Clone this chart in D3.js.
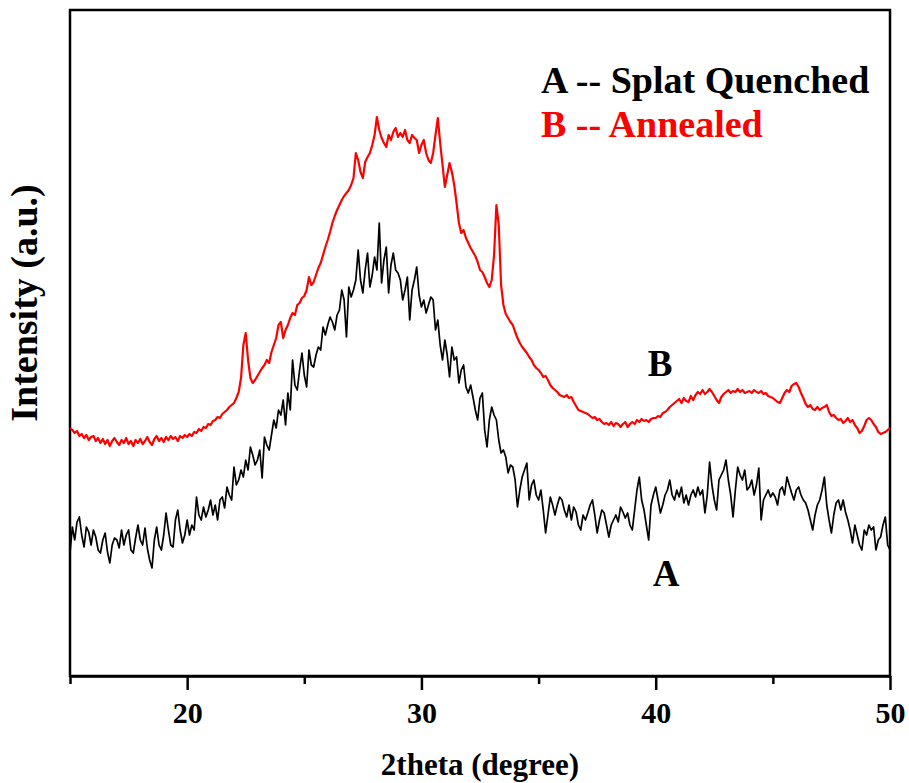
<!DOCTYPE html>
<html>
<head>
<meta charset="utf-8">
<script src="https://cdn.jsdelivr.net/npm/d3@7"></script>
<style>
  body { margin: 0; background: #fff; }
  text { font-family: "Liberation Serif", "Times New Roman", serif; font-weight: bold; }
</style>
</head>
<body>
<div id="chart"></div>
<script>
// 2theta grid, 15 -> 50 deg in 0.1 deg steps
const twoTheta = d3.range(351).map(i => 15 + i / 10);

// A -- Splat Quenched (one row per degree)
const intensityA = [
  123,149,136,154,159,141,129,149,144,131,
  146,139,126,123,136,143,124,113,131,138,
  136,128,146,131,141,146,126,123,138,151,
  136,131,148,128,116,108,136,149,131,126,
  141,163,146,131,129,156,166,146,133,141,
  156,141,151,146,179,161,156,169,159,166,
  176,161,171,156,176,179,168,189,181,176,
  209,191,196,206,199,216,206,229,221,211,
  216,226,198,239,231,226,241,256,248,266,
  261,276,251,283,266,316,291,286,306,323,
  301,289,326,311,309,321,329,326,349,341,
  351,359,354,346,361,366,386,376,339,389,
  379,386,396,426,396,383,406,423,389,401,
  419,406,453,393,416,429,383,411,423,406,
  403,396,376,386,399,356,386,396,409,381,
  369,376,363,371,379,376,346,356,331,316,
  336,321,299,329,316,319,293,306,311,289,
  283,291,279,266,256,278,283,246,229,256,
  269,261,256,236,223,226,219,203,211,209,
  196,169,186,199,206,213,176,191,196,181,
  176,186,166,143,161,179,171,161,171,179,
  176,166,159,171,156,169,164,151,146,161,
  156,163,171,176,161,143,156,166,163,151,
  139,151,156,161,154,169,164,158,163,151,
  146,166,186,199,176,166,151,136,171,181,
  189,176,163,171,181,186,196,181,176,186,
  179,189,173,181,171,181,186,179,189,181,
  186,163,181,214,191,176,166,196,201,206,
  216,196,181,159,186,209,201,196,206,186,
  189,196,181,191,208,156,176,181,186,179,
  183,179,171,186,189,181,199,191,183,176,
  186,189,181,176,173,166,156,146,161,171,
  176,186,199,171,156,143,161,173,176,166,
  176,164,156,146,133,151,141,131,126,146,
  141,151,146,149,126,136,139,151,159,131,
  126
];

// B -- Annealed
const intensityB = [
  248,246,243,245,240,242,238,241,236,239,
  240,235,238,233,237,232,236,230,235,238,
  234,231,236,233,238,232,235,230,236,233,
  237,232,235,239,234,231,237,240,235,238,
  234,239,236,240,237,239,235,240,238,241,
  239,242,240,244,243,247,245,249,248,252,
  251,255,256,259,258,262,264,266,269,271,
  273,278,284,298,331,343,316,298,293,296,
  300,304,308,311,316,313,324,331,338,351,
  354,338,346,351,358,363,361,371,373,378,
  380,386,399,391,394,401,408,413,421,429,
  436,444,453,460,466,471,476,480,483,486,
  491,498,523,516,504,498,514,519,523,531,
  541,559,546,538,533,529,541,536,544,548,
  539,543,539,546,536,533,541,538,536,523,
  531,536,523,516,513,523,541,558,533,511,
  489,501,513,504,491,473,453,443,446,438,
  433,428,424,420,414,406,404,399,393,389,
  396,421,471,451,391,371,362,358,354,351,
  344,338,333,329,326,323,319,316,311,308,
  306,303,299,300,296,291,288,286,284,281,
  280,279,281,278,279,274,270,266,265,264,
  263,262,260,258,259,256,257,254,252,253,
  251,254,250,253,252,249,252,254,249,252,
  254,252,256,254,257,255,256,254,257,258,
  258,260,259,263,264,266,269,271,273,275,
  277,273,278,275,274,280,276,281,284,282,
  286,282,284,287,284,280,276,273,279,282,
  284,286,283,285,284,287,284,286,283,284,
  285,283,286,284,283,285,282,283,280,279,
  278,276,274,273,278,283,286,284,290,292,
  293,289,283,278,272,269,271,267,266,269,
  266,268,269,271,264,260,261,258,256,257,
  253,255,258,254,256,251,248,243,245,250,
  256,258,256,252,249,244,242,243,244,246,
  248
];

const majorTicks = [20, 30, 40, 50];
const minorTicks = [15, 25, 35, 45];

const width = 909;
const height = 783;
const margin = {top: 10, right: 19, bottom: 107, left: 70};
const innerWidth = width - margin.left - margin.right;
const innerHeight = height - margin.top - margin.bottom;

const svg = d3.select("#chart")
  .append("svg")
    .attr("width", width)
    .attr("height", height);

const innerChart = svg.append("g")
    .attr("transform", `translate(${margin.left}, ${margin.top})`);

const xScale = d3.scaleLinear()
    .domain([15, 50])
    .range([0, innerWidth]);

const yScale = d3.scaleLinear()
    .domain([0, 666])
    .range([innerHeight, 0]);

// frame
innerChart.append("rect")
    .attr("width", innerWidth)
    .attr("height", innerHeight)
    .attr("fill", "none")
    .attr("stroke", "#000")
    .attr("stroke-width", 2.5);

// minor ticks
innerChart.append("g")
    .attr("transform", `translate(0, ${innerHeight})`)
    .call(d3.axisBottom(xScale).tickValues(minorTicks).tickSize(8).tickFormat(""))
    .call(g => g.select(".domain").remove())
    .call(g => g.selectAll("line").attr("stroke-width", 2.5));

// major ticks + labels
const xAxis = innerChart.append("g")
    .attr("transform", `translate(0, ${innerHeight})`)
    .call(d3.axisBottom(xScale).tickValues(majorTicks).tickSize(14).tickPadding(12).tickSizeOuter(0));
xAxis.select(".domain").attr("stroke-width", 2.5);
xAxis.selectAll("line").attr("stroke-width", 2.5);
xAxis.selectAll("text")
    .attr("font-size", 30)
    .attr("font-family", "Liberation Serif")
    .attr("font-weight", "bold")
    .attr("fill", "#000");

const line = d3.line()
    .x((d, i) => xScale(twoTheta[i]))
    .y(d => yScale(d));

innerChart.append("path")
    .datum(intensityA)
    .attr("d", line)
    .attr("fill", "none")
    .attr("stroke", "#000")
    .attr("stroke-width", 1.7)
    .attr("stroke-linejoin", "round");

innerChart.append("path")
    .datum(intensityB)
    .attr("d", line)
    .attr("fill", "none")
    .attr("stroke", "#ff0000")
    .attr("stroke-width", 2.2)
    .attr("stroke-linejoin", "round");

// legend
svg.append("text")
    .attr("x", 541).attr("y", 93)
    .attr("font-size", 38)
    .attr("fill", "#000")
    .text("A -- Splat Quenched");

svg.append("text")
    .attr("x", 541).attr("y", 137)
    .attr("font-size", 38)
    .attr("fill", "#ff0000")
    .text("B -- Annealed");

// curve labels
svg.append("text")
    .attr("x", 660).attr("y", 376)
    .attr("text-anchor", "middle")
    .attr("font-size", 37)
    .text("B");

svg.append("text")
    .attr("x", 666).attr("y", 586)
    .attr("text-anchor", "middle")
    .attr("font-size", 37)
    .text("A");

// axis titles
svg.append("text")
    .attr("x", 480)
    .attr("y", 775)
    .attr("text-anchor", "middle")
    .attr("font-size", 31)
    .text("2theta (degree)");

svg.append("text")
    .attr("transform", `translate(37, 303) rotate(-90)`)
    .attr("text-anchor", "middle")
    .attr("font-size", 38)
    .text("Intensity (a.u.)");
</script>
</body>
</html>
